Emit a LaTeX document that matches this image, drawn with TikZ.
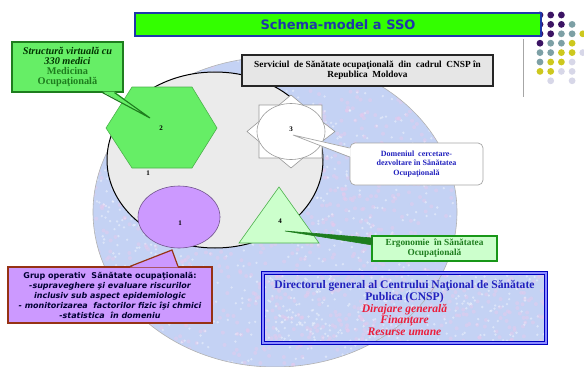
\documentclass[tikz,border=0pt]{standalone}
\usepackage{fontspec}
\setmainfont{Liberation Serif}
\newfontfamily\verdfont{DejaVu Sans}
\definecolor{title_green}{RGB}{51,255,0}
\definecolor{title_blue}{RGB}{30,55,170}
\definecolor{hex_green}{RGB}{102,238,102}
\definecolor{edge_green}{RGB}{30,125,30}
\definecolor{pale_green}{RGB}{204,255,204}
\definecolor{lilac}{RGB}{204,153,255}
\definecolor{edge_brown}{RGB}{150,50,20}
\definecolor{paper_blue}{RGB}{196,210,244}
\definecolor{paper_pink}{RGB}{236,200,236}
\definecolor{core_gray}{RGB}{235,235,235}
\definecolor{box_gray}{RGB}{230,230,230}
\definecolor{text_blue}{RGB}{34,34,190}
\definecolor{text_red}{RGB}{235,30,60}
\definecolor{dot_purple}{RGB}{60,20,100}
\definecolor{dot_teal}{RGB}{125,160,165}
\definecolor{dot_yell}{RGB}{205,200,30}
\definecolor{dot_lav}{RGB}{215,215,232}

\begin{document}
\begin{tikzpicture}[x=1pt,y=-1pt]
    \tikzstyle{numlabel}=[font=\bfseries\fontsize{7}{8}\selectfont, inner sep=0pt]
    \tikzstyle{callout}=[draw, line width=1.2pt, inner sep=0pt, align=center]
    \tikzstyle{speckle}=[opacity=0.4]

    \useasboundingbox (0,0) rectangle (584,367);

    % textured background disc and director box
    \fill[paper_blue] (275,212) ellipse [x radius=182, y radius=155];
    \fill[paper_blue] (262,272) rectangle (547,344);
    \begin{scope}
      \clip (275,212) ellipse [x radius=182, y radius=155];
      \pgfmathsetseed{11}
      \foreach \i in {1,...,900}{
        \fill[paper_pink,speckle] ({93+364*rnd},{57+310*rnd}) circle (2);
        \fill[white,speckle] ({93+364*rnd},{57+310*rnd}) circle (1.3);
      }
    \end{scope}
    \begin{scope}
      \clip (262,272) rectangle (547,344);
      \pgfmathsetseed{5}
      \foreach \i in {1,...,250}{
        \fill[paper_pink,speckle] ({262+285*rnd},{272+72*rnd}) circle (2);
        \fill[white,speckle] ({262+285*rnd},{272+72*rnd}) circle (1.3);
      }
    \end{scope}
    \draw[gray!60, line width=0.6pt] (275,212) ellipse [x radius=182, y radius=155];

    % grey core
    \draw[fill=core_gray, line width=1pt] (215,160) ellipse [x radius=108, y radius=88];
    \node[numlabel] (one_core) at (148,173) {1};

    % 2 : hexagon
    \draw[fill=hex_green, draw=hex_green!75!black, line width=0.6pt]
      (106,128) -- (132,87) -- (192,87) -- (217,128) -- (192,168) -- (132,168) -- cycle;
    \node[numlabel] (two) at (161,128) {2};

    % 3 : sun shape
    \draw[fill=white, draw=gray!80, line width=0.6pt]
      (259,105) -- (279,105) -- (291,95) -- (303,105) -- (322,105) -- (322,121.5)
      -- (335,131.5) -- (322,141.5) -- (322,158) -- (303,158) -- (291,168) -- (279,158)
      -- (259,158) -- (259,141.5) -- (247,131.5) -- (259,121.5) -- cycle;
    \draw[fill=white, draw=gray!80, line width=0.6pt] (291,131.5) ellipse [x radius=34, y radius=28];
    \node[numlabel] (three) at (291,129) {3};

    % 4 : triangle
    \draw[fill=pale_green, draw=gray!60!green, line width=0.6pt] (279,187) -- (319,243) -- (239,243) -- cycle;
    \node[numlabel] (four) at (280,221) {4};

    % 1 : ellipse
    \draw[fill=lilac, draw=lilac!55!black, line width=0.6pt] (179,217) ellipse [x radius=41, y radius=31];
    \node[numlabel] (one) at (180,223) {1};

    % title and corner dots
    \foreach \c/\r/\col in {0/0/dot_purple,1/0/dot_purple,2/0/dot_purple,
        0/1/dot_purple,1/1/dot_purple,2/1/dot_purple,3/1/dot_teal,
        0/2/dot_purple,1/2/dot_purple,2/2/dot_teal,3/2/dot_teal,4/2/dot_yell,
        0/3/dot_purple,1/3/dot_teal,2/3/dot_teal,3/3/dot_yell,
        0/4/dot_teal,1/4/dot_teal,2/4/dot_yell,3/4/dot_yell,4/4/dot_lav,
        0/5/dot_teal,1/5/dot_yell,2/5/dot_yell,3/5/dot_lav,
        0/6/dot_yell,1/6/dot_yell,2/6/dot_lav,3/6/dot_lav,
        1/7/dot_lav,3/7/dot_lav}
      \fill[\col] ({540+10.7*\c},{15+9.4*\r}) circle (3.4);
    \draw[gray!70, line width=0.8pt] (523,39) -- (523,97);
    \node[draw=title_blue, fill=title_green, line width=1.2pt, minimum width=406pt, minimum height=23pt,
      text=title_blue, font=\verdfont\bfseries\fontsize{13}{14}\selectfont] (title) at (338,24.5) {Schema-model a SSO};

    % CNSP box
    \node[callout, fill=box_gray, draw=black!85, minimum width=251pt, minimum height=31pt,
      font=\bfseries\fontsize{9.3}{10}\selectfont] (cnsp) at (367.5,70.5)
      {Serviciul\ \ de Sănătate ocupaţională\ \ din\ \ cadrul\ \ CNSP în\\Republica\ \ Moldova};

    % callout for 2
    \node[callout, fill=hex_green, draw=edge_green, minimum width=111pt, minimum height=50pt,
      font=\bfseries\fontsize{10.3}{10.3}\selectfont] (c2) at (67.5,67)
      {\textcolor{black!80!green}{\itshape Structură virtuală cu}\\\textcolor{black!80!green}{\itshape 330 medici}\\
       \textcolor{edge_green}{Medicina}\\\textcolor{edge_green}{Ocupaţională}};
    \coordinate (tip2) at (150,118);
    \fill[hex_green] ([xshift=35pt,yshift=1pt]c2.south) -- (tip2) -- ([xshift=47pt,yshift=1pt]c2.south) -- cycle;
    \draw[edge_green, line width=1.1pt] ([xshift=35pt]c2.south) -- (tip2) -- ([xshift=47pt]c2.south);

    % callout for 3
    \node[callout, fill=white, draw=gray!70, line width=0.7pt, rounded corners=5pt, minimum width=133pt,
      minimum height=42pt, text=text_blue, font=\bfseries\fontsize{8}{9.5}\selectfont] (c3) at (416.5,164)
      {Domeniul\ \ cercetare-\\dezvoltare în Sănătatea\\Ocupaţională};
    \coordinate (tip3) at (293,135);
    \fill[white] ([xshift=1pt,yshift=16pt]c3.west) -- (tip3) -- ([xshift=1pt,yshift=7pt]c3.west) -- cycle;
    \draw[gray!70, line width=0.7pt] ([yshift=16pt]c3.west) -- (tip3) -- ([yshift=7pt]c3.west);

    % callout for 4
    \node[callout, fill=pale_green, draw=edge_green!80!green, minimum width=125pt, minimum height=25pt,
      text=edge_green, font=\bfseries\fontsize{9.3}{10}\selectfont] (c4) at (434.5,248.5)
      {Ergonomie\ \ în Sănătatea\\Ocupaţională};
    \coordinate (tip4) at (285,231);
    \filldraw[edge_green, line width=0.6pt] ([xshift=1pt,yshift=10.5pt]c4.west) -- (tip4) -- ([xshift=1pt,yshift=3.5pt]c4.west) -- cycle;

    % callout for 1
    \node[callout, fill=lilac, draw=edge_brown, minimum width=204pt, minimum height=56pt,
      text=black!80!blue, font=\verdfont\bfseries\fontsize{8}{10}\selectfont] (c1) at (110,295)
      {Grup operativ\ \ Sănătate ocupaţională:\\\itshape -supraveghere şi evaluare riscurilor\\
       \itshape inclusiv sub aspect epidemiologic\\\itshape - monitorizarea\ \ factorilor fizic îşi chmici\\
       \itshape -statistica\ \ în domeniu};
    \coordinate (tip1) at (172,250);
    \fill[lilac] ([xshift=20pt,yshift=-1pt]c1.north) -- (tip1) -- ([xshift=68pt,yshift=-1pt]c1.north) -- cycle;
    \draw[edge_brown, line width=1.2pt] ([xshift=20pt]c1.north) -- (tip1) -- ([xshift=68pt]c1.north);

    % director box
    \node[draw=blue!75!black, double=blue!45!white, double distance=1.6pt, line width=0.8pt,
      minimum width=283pt, minimum height=70pt, inner sep=0pt, align=center,
      font=\bfseries\fontsize{11.6}{11.7}\selectfont] (dir) at (404.5,308)
      {\textcolor{text_blue}{Directorul general al Centrului Naţional de Sănătate}\\
       \textcolor{text_blue}{Publica (CNSP)}\\
       \textcolor{text_red}{\itshape Dirajare generală}\\
       \textcolor{text_red}{\itshape Finanţare}\\
       \textcolor{text_red}{\itshape Resurse umane}};
\end{tikzpicture}
\end{document}
